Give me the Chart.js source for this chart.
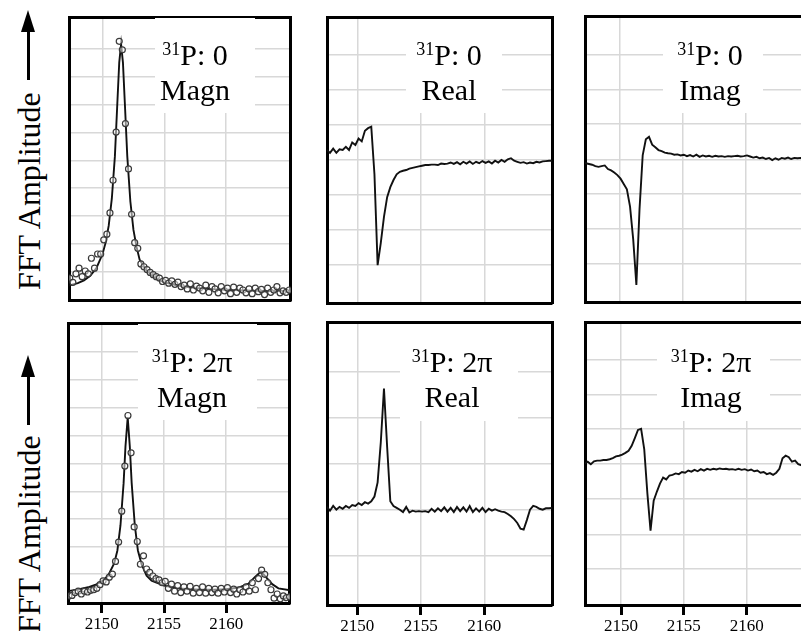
<!DOCTYPE html>
<html><head><meta charset="utf-8">
<script src="https://cdn.jsdelivr.net/npm/chart.js@4.4.1/dist/chart.umd.min.js"></script>
<style>
html,body{margin:0;padding:0;background:#fff;overflow:hidden;width:801px;height:631px;}
body{position:relative;font-family:"Liberation Serif","Times New Roman",serif;color:#000;}
canvas{position:absolute;z-index:1;}
#stage{position:absolute;left:0;top:0;width:801px;height:631px;overflow:hidden;}
.box{position:absolute;background:#fff;z-index:2;}
.tl{position:absolute;width:200px;text-align:center;font-size:30px;line-height:35px;white-space:nowrap;z-index:3;}
.sup{font-size:18px;vertical-align:10px;line-height:0;}
.ylab{position:absolute;left:0;top:0;font-size:32px;line-height:32px;white-space:nowrap;transform-origin:0 0;z-index:3;}
.shaft{position:absolute;width:3px;background:#000;z-index:3;}
.head{position:absolute;width:0;height:0;border-left:7.5px solid transparent;border-right:7.5px solid transparent;border-bottom:22px solid #000;z-index:3;}
.tick{position:absolute;width:3px;height:9px;background:#000;z-index:10;}
.tlab{position:absolute;width:60px;text-align:center;font-size:17px;line-height:17px;white-space:nowrap;color:#000;z-index:10;}
</style></head>
<body>
<div id="stage"></div>
<script>
// ---------- data ----------
const xTicks = [2150, 2155, 2160];
const phaseLabels = ['0', '2\u03C0'];
const partLabels = ['Magn', 'Real', 'Imag'];
const yAxisLabel = 'FFT Amplitude';

const freq = [2147.10,2147.35,2147.60,2147.85,2148.10,2148.35,2148.60,2148.85,2149.10,2149.35,
2149.60,2149.85,2150.10,2150.35,2150.60,2150.85,2151.10,2151.35,2151.60,2151.85,
2152.10,2152.35,2152.60,2152.85,2153.10,2153.35,2153.60,2153.85,2154.10,2154.35,
2154.60,2154.85,2155.10,2155.35,2155.60,2155.85,2156.10,2156.35,2156.60,2156.85,
2157.10,2157.35,2157.60,2157.85,2158.10,2158.35,2158.60,2158.85,2159.10,2159.35,
2159.60,2159.85,2160.10,2160.35,2160.60,2160.85,2161.10,2161.35,2161.60,2161.85,
2162.10,2162.35,2162.60,2162.85,2163.10,2163.35,2163.60,2163.85,2164.10,2164.35,
2164.60,2164.85,2165.10,2165.35];

// 31P: 0
const magn0 = [null,0.8,0.65,0.95,1.15,0.85,1.05,0.95,1.5,1.15,1.65,
1.65,2.15,2.35,3.1,4.25,5.95,9.15,8.85,6.25,4.65,
3.05,2.05,1.85,1.3,1.2,1.1,1.0,0.92,0.85,0.8,
0.68,0.72,0.62,0.7,0.58,0.66,0.5,0.55,0.42,0.6,
0.38,0.52,0.45,0.35,0.55,0.3,0.5,0.42,0.28,0.5,
0.35,0.45,0.25,0.48,0.3,0.45,0.38,0.28,0.42,0.25,
0.45,0.32,0.4,0.22,0.45,0.3,0.38,0.5,0.28,0.35,
0.3,0.38,null];
const fitFreq0 = [2147.1,2148,2148.5,2149,2149.5,2150,2150.25,2150.5,2150.75,2151,2151.2,2151.35,2151.5,2151.65,2151.8,2152,2152.25,2152.5,2152.75,2153,2153.5,2154,2154.5,2155,2156,2157,2158,2159,2160,2162,2165.4];
const fitMagn0 = [0.52,0.62,0.72,0.88,1.15,1.65,2.05,2.65,3.6,5.1,7.0,8.4,9.05,8.4,7.0,5.1,3.5,2.5,1.9,1.45,1.1,0.9,0.75,0.65,0.55,0.48,0.44,0.41,0.39,0.36,0.33];
const real0 = [4.3,4.3,4.28,4.2,4.32,4.2,4.3,4.28,4.37,4.28,4.49,
4.42,4.6,4.52,4.82,4.89,4.93,3.6,1.06,1.68,2.41,
2.96,3.24,3.44,3.6,3.67,3.7,3.72,3.76,3.78,3.8,
3.82,3.84,3.86,3.86,3.87,3.87,3.86,3.9,3.89,3.9,
3.93,3.89,3.94,3.88,3.95,3.9,3.96,3.89,3.95,3.91,
3.97,3.92,3.96,3.9,3.98,3.93,4.0,3.95,4.02,4.05,
3.98,3.95,3.92,3.94,3.9,3.93,3.91,3.95,3.93,3.96,
3.97,3.98,3.98];
const imag0 = [3.9,3.88,3.86,3.84,3.8,3.78,3.8,3.82,3.72,3.68,3.62,
3.55,3.45,3.3,3.15,2.67,1.75,0.48,2.6,4.1,4.55,
4.62,4.4,4.33,4.25,4.22,4.18,4.16,4.15,4.12,4.13,
4.1,4.12,4.08,4.11,4.07,4.12,4.06,4.1,4.07,4.09,
4.06,4.09,4.07,4.08,4.06,4.08,4.07,4.08,4.09,4.07,
4.08,4.1,4.07,4.04,4.06,4.02,4.04,4.0,4.03,3.97,
4.02,3.98,4.03,4.01,4.04,4.0,4.03,4.02,4.03,4.02,
4.03,4.02,4.02];

// 31P: 2pi
const magn2pi = [null,0.28,0.3,0.4,0.45,0.35,0.45,0.42,0.48,0.5,0.55,
0.68,0.82,0.78,0.95,1.06,1.51,2.2,3.3,4.91,6.71,
5.38,2.74,2.22,1.41,1.71,1.24,1.12,0.99,0.9,0.85,
0.75,0.8,0.55,0.7,0.45,0.65,0.4,0.6,0.45,0.62,
0.38,0.55,0.4,0.6,0.38,0.55,0.4,0.52,0.38,0.55,
0.42,0.58,0.4,0.52,0.35,0.5,0.42,0.6,0.45,0.75,
0.5,0.9,1.2,1.05,0.75,0.5,0.2,0.35,0.18,0.28,
0.22,0.25,null];
const fitFreq2pi = [2147.1,2148,2149,2149.5,2150,2150.5,2151,2151.25,2151.5,2151.75,2151.9,2152.08,2152.25,2152.4,2152.65,2152.9,2153.2,2153.6,2154,2155,2156,2157,2158,2159,2160,2161,2161.8,2162.3,2162.8,2163.2,2163.7,2164.2,2165.4];
const fitMagn2pi = [0.44,0.5,0.6,0.68,0.8,1.0,1.45,1.9,2.8,4.3,5.6,6.65,5.6,4.3,2.8,1.9,1.4,1.0,0.82,0.65,0.56,0.52,0.5,0.5,0.52,0.58,0.72,0.95,1.15,0.95,0.7,0.55,0.46];
const real2pi = [2.05,2.05,2.08,2.0,2.1,2.02,2.08,2.04,2.1,2.06,2.12,
2.1,2.16,2.12,2.18,2.15,2.2,2.3,2.6,3.45,4.59,
3.35,2.2,2.1,2.06,2.02,1.97,2.08,1.96,2.0,1.98,
1.99,1.98,1.99,1.97,2.04,1.98,2.05,1.99,2.07,1.98,
2.06,1.97,2.08,1.99,2.07,1.98,2.1,1.97,2.05,1.98,
2.06,1.97,2.04,2.0,2.03,2.0,1.98,1.97,1.93,1.88,
1.82,1.74,1.62,1.6,1.8,2.02,2.1,2.08,2.04,2.02,
2.05,2.05,2.06];
const imag2pi = [4.0,4.05,3.98,4.06,4.08,4.08,4.1,4.1,4.12,4.15,
4.2,4.22,4.25,4.3,4.36,4.5,4.72,4.95,4.98,4.4,
3.15,2.1,2.95,3.2,3.43,3.6,3.55,3.66,3.68,3.72,
3.7,3.76,3.74,3.8,3.77,3.82,3.78,3.84,3.8,3.85,
3.82,3.85,3.83,3.86,3.84,3.85,3.83,3.84,3.82,3.85,
3.82,3.84,3.8,3.83,3.78,3.8,3.74,3.76,3.7,3.73,
3.68,3.74,3.85,4.15,4.22,4.18,4.05,4.08,3.98,3.95,
3.95,3.96,3.95,3.96];

// ---------- helpers ----------
const stage = document.getElementById('stage');
const GRID = '#d8d8d8';
const pts = (xs, ys) => xs.map((x, k) => ({x: x, y: ys[k]})).filter(q => q.y !== null);
const circles = (xs, ys) => ({data: pts(xs, ys), showLine: false, pointRadius: 3, pointBorderWidth: 1.2,
  pointBorderColor: '#3a3a3a', pointBackgroundColor: 'rgba(255,255,255,0.5)', order: 1});
const trace = (xs, ys) => ({data: pts(xs, ys), showLine: true, borderColor: '#111', borderWidth: 1.9,
  pointRadius: 0, tension: 0, order: 2});

function makePanel(p) {
  const pad = 4;
  const w = p.r - p.l + 2 * pad;
  const h = p.b - p.t + 2 * pad;
  const cv = document.createElement('canvas');
  cv.width = w; cv.height = h;
  cv.style.left = (p.l - pad) + 'px'; cv.style.top = (p.t - pad) + 'px';
  cv.style.width = w + 'px'; cv.style.height = h + 'px';
  stage.appendChild(cv);
  const edge = {display: true, color: '#000', width: 3};
  const chart = new Chart(cv, {
    type: 'scatter',
    data: {datasets: p.datasets},
    options: {
      responsive: false, animation: false, events: [],
      layout: {padding: pad},
      plugins: {legend: {display: false}, tooltip: {enabled: false}},
      scales: {
        x: {type: 'linear', position: 'bottom', min: p.xmin, max: p.xmax,
          afterBuildTicks: a => { a.ticks = xTicks.map(v => ({value: v})); },
          afterFit: s => { s.height = 0; },
          grid: {color: GRID, lineWidth: 1.5, drawTicks: false},
          border: edge, ticks: {display: false}
        },
        y: {type: 'linear', position: 'left', min: 0, max: p.ymax,
          afterBuildTicks: a => { a.ticks = p.gridY.map(v => ({value: v})); },
          afterFit: s => { s.width = 0; },
          grid: {color: GRID, lineWidth: 1.5, drawTicks: false},
          border: edge, ticks: {display: false}
        },
        x2: {type: 'linear', axis: 'x', position: 'top', afterFit: s => { s.height = 0; },
          grid: {display: false, drawTicks: false}, border: edge, ticks: {display: false}},
        y2: {type: 'linear', axis: 'y', position: 'right', afterFit: s => { s.width = 0; },
          grid: {display: false, drawTicks: false}, border: edge, ticks: {display: false}}
      }
    }
  });
  if (p.bottom) {
    // tick marks and tick labels placed with the chart's own x scale
    const sx = chart.scales.x;
    const ox = p.l - pad, oy = p.t - pad;
    xTicks.forEach(v => {
      const px = ox + sx.getPixelForValue(v);
      const py = oy + chart.chartArea.bottom;
      const tk = document.createElement('div');
      tk.className = 'tick';
      tk.style.left = (px - 1.5) + 'px'; tk.style.top = (py + 0.5) + 'px';
      stage.appendChild(tk);
      const lb = document.createElement('div');
      lb.className = 'tlab'; lb.textContent = String(v);
      lb.style.left = (px - 30) + 'px'; lb.style.top = (py + 11.5) + 'px';
      stage.appendChild(lb);
    });
  }
  return chart;
}

function addLabel(box, cx, top, phase, part) {
  const b = document.createElement('div');
  b.className = 'box';
  b.style.left = box[0] + 'px'; b.style.top = box[1] + 'px';
  b.style.width = box[2] + 'px'; b.style.height = box[3] + 'px';
  stage.appendChild(b);
  const l1 = document.createElement('div');
  l1.className = 'tl'; l1.style.left = (cx - 100) + 'px'; l1.style.top = top + 'px';
  l1.innerHTML = '<span class="sup">31</span>P: ' + phase;
  stage.appendChild(l1);
  const l2 = document.createElement('div');
  l2.className = 'tl'; l2.style.left = (cx - 100) + 'px'; l2.style.top = (top + 35) + 'px';
  l2.textContent = part;
  stage.appendChild(l2);
}

function addYLabel(textBottom, tipY) {
  const t = document.createElement('div');
  t.className = 'ylab'; t.textContent = yAxisLabel;
  t.style.transform = 'translate(12.7px,' + textBottom + 'px) rotate(-90deg)';
  stage.appendChild(t);
  const hd = document.createElement('div');
  hd.className = 'head'; hd.style.left = '20.8px'; hd.style.top = tipY + 'px';
  stage.appendChild(hd);
  const sh = document.createElement('div');
  sh.className = 'shaft'; sh.style.left = '26.8px'; sh.style.top = (tipY + 18) + 'px';
  sh.style.height = '52px';
  stage.appendChild(sh);
}

// ---------- panels ----------
makePanel({l: 68, t: 16, r: 292, b: 302, xmin: 2147.304, xmax: 2165.224, ymax: 10,
  gridY: [1.04, 2.02, 3.0, 3.98, 4.95, 5.93, 6.91, 7.89, 8.87],
  datasets: [circles(freq, magn0), trace(fitFreq0, fitMagn0)]});
makePanel({l: 327, t: 17, r: 552, b: 303, xmin: 2147.614, xmax: 2165.331, ymax: 8,
  gridY: [1.06, 2.04, 3.02, 4.0, 4.98, 5.96, 6.94],
  datasets: [trace(freq, real0)]});
makePanel({l: 585, t: 16, r: 810, b: 302, xmin: 2147.286, xmax: 2165.087, ymax: 8,
  gridY: [1.08, 2.04, 3.02, 3.99, 4.98, 5.95, 6.91],
  datasets: [trace(freq, imag0)]});
makePanel({l: 67, t: 322, r: 291, b: 605, bottom: true, xmin: 2147.295, xmax: 2165.115, ymax: 10,
  gridY: [1.06, 2.04, 3.03, 4.0, 5.0, 5.98, 6.99, 7.98, 8.98],
  datasets: [circles(freq, magn2pi), trace(fitFreq2pi, fitMagn2pi)]});
makePanel({l: 327, t: 322, r: 552, b: 605, bottom: true, xmin: 2147.614, xmax: 2165.331, ymax: 6,
  gridY: [1.04, 2.01, 2.99, 3.97, 4.95],
  datasets: [trace(freq, real2pi)]});
makePanel({l: 585, t: 322, r: 810, b: 605, bottom: true, xmin: 2147.136, xmax: 2165.036, ymax: 8,
  gridY: [1.02, 2.0, 3.0, 3.98, 4.97, 5.94, 6.93],
  datasets: [trace(freq, imag2pi)]});

addLabel([155, 18, 100, 95], 195, 37.4, phaseLabels[0], partLabels[0]);
addLabel([406, 19, 96, 94], 449, 37.4, phaseLabels[0], partLabels[1]);
addLabel([663, 18, 100, 95], 710, 37.4, phaseLabels[0], partLabels[2]);
addLabel([138, 324, 119, 96], 192, 344.4, phaseLabels[1], partLabels[0]);
addLabel([400, 324, 118, 97], 452, 344.4, phaseLabels[1], partLabels[1]);
addLabel([657, 324, 113, 97], 711, 344.4, phaseLabels[1], partLabels[2]);

addYLabel(290, 10);
addYLabel(633, 355);
</script>
</body></html>
